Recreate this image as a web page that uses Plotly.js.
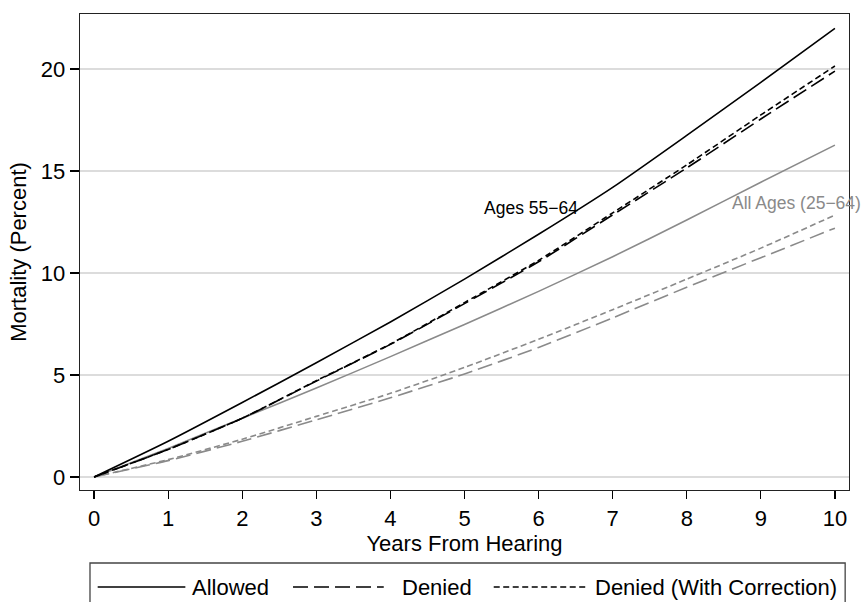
<!DOCTYPE html>
<html><head><meta charset="utf-8">
<script src="https://cdn.plot.ly/plotly-3.0.1.min.js"></script>
<style>html,body{margin:0;padding:0;background:#fff}#chart{width:863px;height:602px}</style>
</head><body><div id="chart"></div>
<script>
// ---- data ----
const years = [0, 1, 2, 3, 4, 5, 6, 7, 8, 9, 10];
const allowed5564   = [0, 1.75, 3.65, 5.6, 7.6, 9.7, 11.9, 14.2, 16.75, 19.35, 22.0];
const denied5564    = [0, 1.35, 2.88, 4.7, 6.5, 8.5, 10.55, 12.85, 15.15, 17.55, 19.9];
const deniedCorr5564= [0, 1.35, 2.88, 4.72, 6.52, 8.55, 10.62, 12.95, 15.3, 17.75, 20.15];
const allowedAll    = [0, 1.4, 2.88, 4.36, 5.9, 7.48, 9.1, 10.8, 12.6, 14.45, 16.27];
const deniedAll     = [0, 0.8, 1.75, 2.8, 3.88, 5.05, 6.35, 7.8, 9.3, 10.75, 12.2];
const deniedCorrAll = [0, 0.85, 1.85, 2.97, 4.1, 5.37, 6.75, 8.2, 9.7, 11.22, 12.84];
const seriesNames = ['Allowed', 'Denied', 'Denied (With Correction)'];
const groupLabels = ['Ages 55\u221264', 'All Ages (25\u221264)'];
const xTickVals = [0, 1, 2, 3, 4, 5, 6, 7, 8, 9, 10];
const yTickVals = [0, 5, 10, 15, 20];
const xTitle = 'Years From Hearing';
const yTitle = 'Mortality (Percent)';

// ---- styles ----
const FONT = 'Liberation Sans, Arial, Helvetica, sans-serif';
const BLACK = '#000000';
const GREY = '#8a8a8a';
const dashes = ['solid', '15px,6px', '6px,3.5px'];
const W = 1.6;
const FS = 22;

function tr(y, name, color, dash) {
  return {x: years, y: y, name: name, type: 'scatter', mode: 'lines',
    line: {color: color, width: W, dash: dash, shape: 'spline', smoothing: 0.6},
    showlegend: false, hoverinfo: 'skip', cliponaxis: true};
}
const data = [
  tr(deniedAll, seriesNames[1], GREY, dashes[1]),
  tr(deniedCorrAll, seriesNames[2], GREY, dashes[2]),
  tr(allowedAll, seriesNames[0], GREY, dashes[0]),
  tr(denied5564, seriesNames[1], BLACK, dashes[1]),
  tr(deniedCorr5564, seriesNames[2], BLACK, dashes[2]),
  tr(allowed5564, seriesNames[0], BLACK, dashes[0])
];

// legend drawn in paper coordinates
const legY = -0.2038;
const legLines = [[0.023, 0.137], [0.277, 0.395], [0.538, 0.658]];
const legText = [0.1435, 0.4155, 0.6665];
const shapes = [{type: 'rect', xref: 'paper', yref: 'paper', x0: 0.013, x1: 0.995, y0: -0.1534, y1: -0.27,
  line: {color: '#444', width: 1.3}, fillcolor: 'rgba(0,0,0,0)'}];
const annotations = [];
seriesNames.forEach((n, i) => {
  shapes.push({type: 'line', xref: 'paper', yref: 'paper', x0: legLines[i][0], x1: legLines[i][1], y0: legY, y1: legY,
    line: {color: BLACK, width: W, dash: dashes[i]}});
  annotations.push({xref: 'paper', yref: 'paper', x: legText[i], y: legY, text: n, showarrow: false,
    xanchor: 'left', yanchor: 'middle', font: {family: FONT, size: FS, color: '#000'}});
});
annotations.push({x: 5.9, y: 13.2, xref: 'x', yref: 'y', text: groupLabels[0], showarrow: false,
  font: {family: FONT, size: 17.5, color: '#000'}});
annotations.push({x: 9.48, y: 13.45, xref: 'x', yref: 'y', text: groupLabels[1], showarrow: false,
  font: {family: FONT, size: 17.5, color: GREY}});

const layout = {
  width: 863, height: 602,
  margin: {l: 80, r: 14, t: 14, b: 112},
  paper_bgcolor: '#ffffff', plot_bgcolor: '#ffffff',
  font: {family: FONT, size: FS, color: '#000'},
  showlegend: false,
  hovermode: false,
  xaxis: {range: [-0.19, 10.19], tickvals: xTickVals, ticks: 'outside', ticklen: 8, tickwidth: 1.3, tickcolor: '#000',
    showgrid: false, zeroline: false, showline: true, mirror: true, linecolor: '#222', linewidth: 1.4,
    tickfont: {size: FS}, title: {text: xTitle, font: {size: FS}, standoff: 2}},
  yaxis: {range: [-0.64, 22.7], tickvals: yTickVals, ticks: 'outside', ticklen: 9, tickwidth: 1.3, tickcolor: '#000',
    showgrid: true, gridcolor: '#dcdcdc', gridwidth: 1.3, zeroline: false, showline: true, mirror: true,
    linecolor: '#222', linewidth: 1.4, tickfont: {size: FS}, title: {text: yTitle, font: {size: FS}, standoff: 8}},
  shapes: shapes,
  annotations: annotations
};
Plotly.newPlot('chart', data, layout, {displayModeBar: false, staticPlot: true});
</script></body></html>
